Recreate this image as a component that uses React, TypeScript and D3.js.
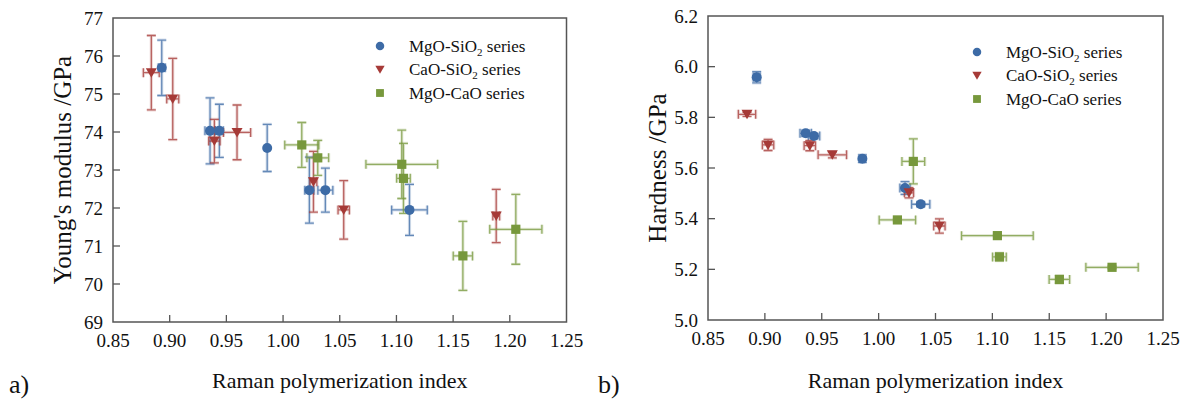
import React from "react";
import * as d3 from "d3";

// ---------- Data: Young's modulus (plot a) ----------
const eMgSiX = [0.893, 0.9356, 0.9438, 0.986, 1.0232, 1.0373, 1.1115];
const eMgSiXErr = [0.003, 0.0045, 0.0035, 0, 0.004, 0.0066, 0.0157];
const eMgSiY = [75.69, 74.03, 74.03, 73.58, 72.47, 72.47, 71.95];
const eMgSiYErr = [0.73, 0.87, 0.7, 0.62, 0.87, 0.58, 0.67];

const eCaSiX = [0.8838, 0.9027, 0.9394, 0.9594, 1.0268, 1.0535, 1.188];
const eCaSiXErr = [0.007, 0.0053, 0.005, 0.012, 0.003, 0.005, 0.003];
const eCaSiY = [75.56, 74.87, 73.76, 73.99, 72.69, 71.95, 71.79];
const eCaSiYErr = [0.98, 1.07, 0.57, 0.72, 0.8, 0.77, 0.7];

const eMgCaX = [1.0165, 1.0306, 1.1047, 1.1062, 1.1586, 1.2053];
const eMgCaXErr = [0.015, 0.0096, 0.0316, 0.006, 0.0085, 0.023];
const eMgCaY = [73.66, 73.32, 73.15, 72.78, 70.74, 71.44];
const eMgCaYErr = [0.59, 0.46, 0.9, 0.92, 0.91, 0.92];

// ---------- Data: Hardness (plot b) ----------
const hMgSiX = [0.8928, 0.9359, 0.9432, 0.9857, 1.0232, 1.037];
const hMgSiXErr = [0.003, 0.005, 0.005, 0.002, 0.0045, 0.008];
const hMgSiY = [5.958, 5.737, 5.726, 5.637, 5.521, 5.457];
const hMgSiYErr = [0.022, 0.012, 0.01, 0.015, 0.025, 0.01];

const hCaSiX = [0.8843, 0.9028, 0.9395, 0.9593, 1.0267, 1.0534];
const hCaSiXErr = [0.0076, 0.005, 0.005, 0.0125, 0.004, 0.005];
const hCaSiY = [5.812, 5.691, 5.688, 5.652, 5.502, 5.371];
const hCaSiYErr = [0.008, 0.022, 0.02, 0.012, 0.02, 0.028];

const hMgCaX = [1.0305, 1.0165, 1.1044, 1.1062, 1.1589, 1.2052];
const hMgCaXErr = [0.01, 0.016, 0.0315, 0.006, 0.009, 0.023];
const hMgCaY = [5.626, 5.395, 5.333, 5.249, 5.16, 5.208];
const hMgCaYErr = [0.089, 0.005, 0.004, 0.015, 0.015, 0.005];

// ---------- Ticks / labels ----------
const xTicks = [0.85, 0.9, 0.95, 1.0, 1.05, 1.1, 1.15, 1.2, 1.25];
const eTicks = [69, 70, 71, 72, 73, 74, 75, 76, 77];
const hTicks = [5.0, 5.2, 5.4, 5.6, 5.8, 6.0, 6.2];
const seriesNames = ["MgO-SiO", "CaO-SiO", "MgO-CaO"];
const seriesSub = ["2", "2", ""];
const xTitle = "Raman polymerization index";
const eTitle = "Young's modulus /GPa";
const hTitle = "Hardness /GPa";

const COLORS = ["#3D6BA6", "#A63A37", "#77983C"];
const SHAPES = ["circle", "triangle", "square"];
const FONT = "Liberation Serif";
const AXIS = "#555555";

type Series = { x: number[]; xe: number[]; y: number[]; ye: number[] };

function Marker({ shape, cx, cy, color, s = 1 }: any) {
  if (shape === "circle") return <circle cx={cx} cy={cy} r={5 * s} fill={color} />;
  if (shape === "triangle") {
    const w = 5.5 * s;
    return (
      <path
        d={`M${cx - w},${cy - 4.5 * s}L${cx + w},${cy - 4.5 * s}L${cx},${cy + 5 * s}Z`}
        fill={color}
      />
    );
  }
  const h = 4.6 * s;
  return <rect x={cx - h} y={cy - h} width={2 * h} height={2 * h} fill={color} />;
}

function Panel({
  left,
  right,
  top,
  bottom,
  yDomain,
  yTicks,
  yFmt,
  yTitle,
  series,
  legendX,
  legendY,
  label,
  labelX,
}: any) {
  const x = d3.scaleLinear().domain([0.85, 1.25]).range([left, right]);
  const y = d3.scaleLinear().domain(yDomain).range([bottom, top]);
  const cap = 4.5;
  const fmtX = d3.format(".2f");
  const midX = (left + right) / 2;
  const midY = (top + bottom) / 2;
  const ts = { fontFamily: FONT };

  return (
    <g>
      <rect x={left} y={top} width={right - left} height={bottom - top} fill="none" stroke={AXIS} strokeWidth={1.5} />
      {xTicks.map((t, i) => (
        <g key={"xt" + i}>
          {i > 0 && i < xTicks.length - 1 && (
            <line x1={x(t)} x2={x(t)} y1={bottom} y2={bottom - 7} stroke={AXIS} strokeWidth={1.3} />
          )}
          <text x={x(t)} y={bottom + 25} textAnchor="middle" fontSize={19} style={ts} fill="#111">
            {fmtX(t)}
          </text>
        </g>
      ))}
      {yTicks.map((t: number, i: number) => (
        <g key={"yt" + i}>
          {i > 0 && i < yTicks.length - 1 && (
            <line x1={left} x2={left + 7} y1={y(t)} y2={y(t)} stroke={AXIS} strokeWidth={1.3} />
          )}
          <text x={left - 10} y={y(t) + 6.5} textAnchor="end" fontSize={19} style={ts} fill="#111">
            {yFmt(t)}
          </text>
        </g>
      ))}
      <text x={midX} y={388} textAnchor="middle" fontSize={22} style={ts} fill="#111">
        {xTitle}
      </text>
      <text
        transform={`translate(${left - 42},${midY}) rotate(-90)`}
        textAnchor="middle"
        fontSize={25}
        style={ts}
        fill="#111"
      >
        {yTitle}
      </text>
      <text x={labelX} y={393} fontSize={26} style={ts} fill="#111">
        {label}
      </text>
      {series.map((s: Series, si: number) =>
        s.x.map((xv, i) => {
          const cx = x(xv);
          const cy = y(s.y[i]);
          const y1 = y(s.y[i] + s.ye[i]);
          const y2 = y(s.y[i] - s.ye[i]);
          const x1 = x(xv - s.xe[i]);
          const x2 = x(xv + s.xe[i]);
          const c = COLORS[si];
          const p =
            `M${cx},${y1}L${cx},${y2}M${cx - cap},${y1}L${cx + cap},${y1}M${cx - cap},${y2}L${cx + cap},${y2}` +
            (s.xe[i] > 0
              ? `M${x1},${cy}L${x2},${cy}M${x1},${cy - cap}L${x1},${cy + cap}M${x2},${cy - cap}L${x2},${cy + cap}`
              : "");
          return (
            <g key={`eb${si}-${i}`}>
              <path d={p} fill="none" stroke={c} strokeOpacity={0.2} strokeWidth={3.2} />
              <path d={p} fill="none" stroke={c} strokeOpacity={0.75} strokeWidth={1.3} />
            </g>
          );
        })
      )}
      {series.map((s: Series, si: number) =>
        s.x.map((xv, i) => (
          <Marker key={`m${si}-${i}`} shape={SHAPES[si]} cx={x(xv)} cy={y(s.y[i])} color={COLORS[si]} />
        ))
      )}
      {seriesNames.map((n, i) => (
        <g key={"lg" + i}>
          <Marker shape={SHAPES[i]} cx={legendX} cy={legendY + i * 23.5} color={COLORS[i]} s={0.85} />
          <text x={legendX + 29} y={legendY + i * 23.5 + 5.5} fontSize={17} style={ts} fill="#111">
            {n}
            {seriesSub[i] && (
              <tspan fontSize={11} dy={4}>
                {seriesSub[i]}
              </tspan>
            )}
            <tspan dy={seriesSub[i] ? -4 : 0}>{" series"}</tspan>
          </text>
        </g>
      ))}
    </g>
  );
}

export default function App() {
  const eSeries: Series[] = [
    { x: eMgSiX, xe: eMgSiXErr, y: eMgSiY, ye: eMgSiYErr },
    { x: eCaSiX, xe: eCaSiXErr, y: eCaSiY, ye: eCaSiYErr },
    { x: eMgCaX, xe: eMgCaXErr, y: eMgCaY, ye: eMgCaYErr },
  ];
  const hSeries: Series[] = [
    { x: hMgSiX, xe: hMgSiXErr, y: hMgSiY, ye: hMgSiYErr },
    { x: hCaSiX, xe: hCaSiXErr, y: hCaSiY, ye: hCaSiYErr },
    { x: hMgCaX, xe: hMgCaXErr, y: hMgCaY, ye: hMgCaYErr },
  ];
  return (
    <svg
      width={1189}
      height={400}
      style={{ position: "absolute", left: 0, top: 0, background: "#fff" }}
    >
      <rect width={1189} height={400} fill="#fff" />
      <Panel
        left={113}
        right={566.5}
        top={18}
        bottom={322}
        yDomain={[69, 77]}
        yTicks={eTicks}
        yFmt={(t: number) => d3.format("d")(t)}
        yTitle={eTitle}
        series={eSeries}
        legendX={380}
        legendY={46}
        label="a)"
        labelX={9}
      />
      <Panel
        left={708}
        right={1163}
        top={16}
        bottom={320}
        yDomain={[5.0, 6.2]}
        yTicks={hTicks}
        yFmt={(t: number) => d3.format(".1f")(t)}
        yTitle={hTitle}
        series={hSeries}
        legendX={977}
        legendY={52}
        label="b)"
        labelX={598}
      />
    </svg>
  );
}
